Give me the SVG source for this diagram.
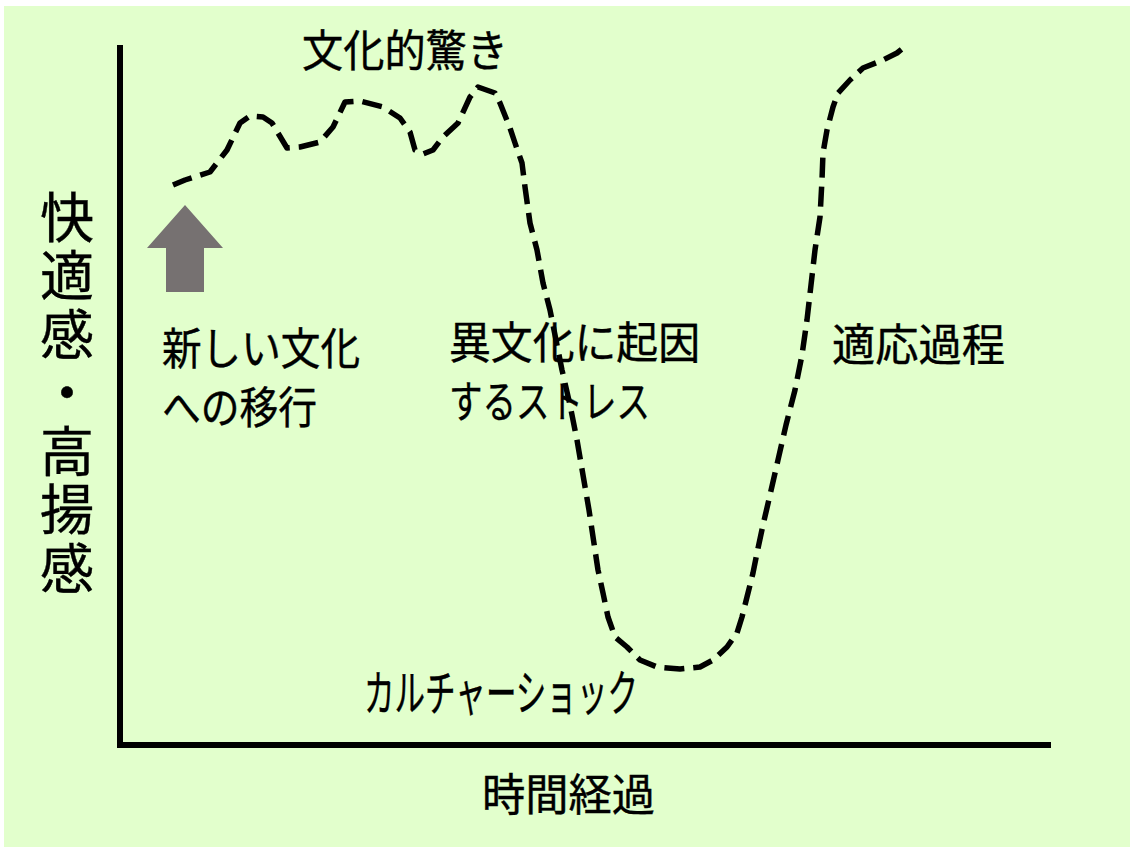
<svg xmlns="http://www.w3.org/2000/svg" width="1130" height="847" viewBox="0 0 1130 847">
<style>
.t{font-family:"Noto Sans CJK JP","Noto Sans",sans-serif;fill:#000;font-size:44px;stroke:#000;stroke-width:0.4}
.v{font-family:"Noto Sans CJK JP","Noto Sans",sans-serif;fill:#000;font-size:54px;stroke:#000;stroke-width:0.4;writing-mode:tb;letter-spacing:4.5px}
.ax{stroke:#000;stroke-width:6;fill:none}
.curve{stroke:#000;stroke-width:5.5;fill:none;stroke-dasharray:20 9;stroke-linejoin:round}
</style>
<rect x="4" y="6" width="1126" height="841" fill="#E2FFCC"/>
<g id="axes">
<line class="ax" x1="120" y1="45" x2="120" y2="748"/>
<line class="ax" x1="117" y1="745" x2="1051" y2="745"/>
</g>
<g id="connectors">
<path class="curve" d="M173,185 L185,180 L210,172 L227,150 L240,123 L250,116 L263,117 L272,123 L287,148 L300,147 L320,142 L333,127 L345,102 L360,101 L383,107 L400,118 L410,132 L415,150 L423,154 L433,150 L443,137 L458,123 L470,97 L478,87 L495,93 L500,103 L510,128 L515,143 L522,163 L525,187 L530,223 L537,250 L543,283 L550,310 L562,370 L570,405 L577,440 L583,475 L589,510 L595,550 L598,570 L603,593 L608,617 L615,637 L627,647 L640,660 L657,667 L680,669 L700,667 L713,660 L727,647 L737,633 L742,617 L747,597 L753,573 L757,553 L763,525 L770,495 L778,460 L786,425 L795,390 L802,355 L807,320 L811,285 L815,250 L820,217 L822,180 L823,153 L827,130 L833,107 L838,93 L850,80 L863,68 L883,60 L897,53 L907,45"/>
</g>
<g id="arrow">
<polygon points="185,205 223,248 204,248 204,292 166,292 166,248 147,248" fill="#767171"/>
</g>
<g id="ylabel">
<text class="v" x="67" y="190">快適感・高揚感</text>
</g>
<g id="label-surprise"><text class="t" x="302" y="67" textLength="206" lengthAdjust="spacingAndGlyphs">文化的驚き</text></g>
<g id="label-new">
<text class="t" x="162" y="365" textLength="198" lengthAdjust="spacingAndGlyphs">新しい文化</text>
<text class="t" x="162" y="424" textLength="155" lengthAdjust="spacingAndGlyphs">への移行</text>
</g>
<g id="label-stress">
<text class="t" x="449" y="359" textLength="251" lengthAdjust="spacingAndGlyphs">異文化に起因</text>
<text class="t" x="449" y="418" textLength="201" lengthAdjust="spacingAndGlyphs">するストレス</text>
</g>
<g id="label-adapt"><text class="t" x="832" y="361" textLength="173" lengthAdjust="spacingAndGlyphs">適応過程</text></g>
<g id="label-shock"><text class="t" x="364" y="711" textLength="274" lengthAdjust="spacingAndGlyphs" style="font-size:49px">カルチャーショック</text></g>
<g id="label-time"><text class="t" x="482" y="811" textLength="173" lengthAdjust="spacingAndGlyphs">時間経過</text></g>
</svg>
